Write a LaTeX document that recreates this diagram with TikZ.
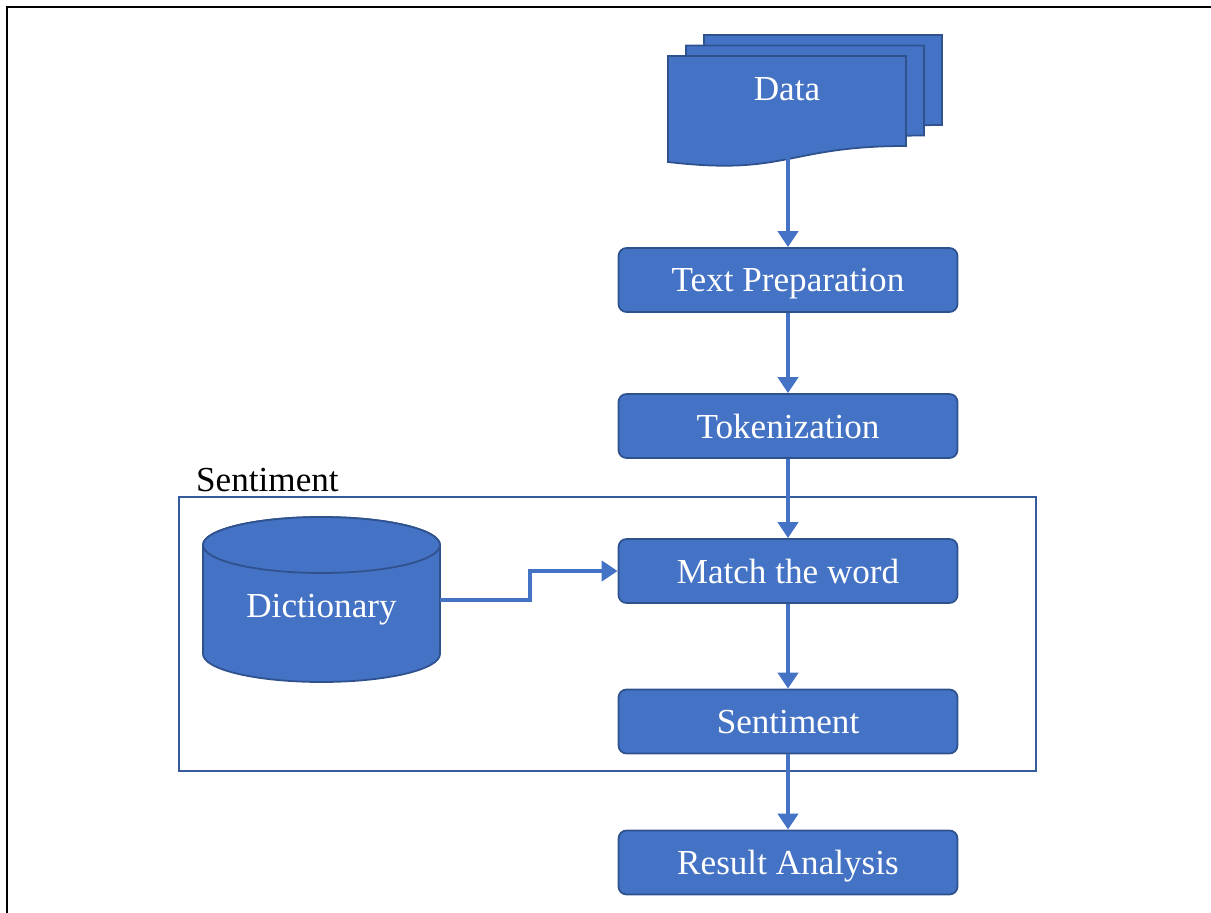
\documentclass[tikz,border=0pt]{standalone}
\usepackage{fontspec}
\setmainfont{Liberation Serif}
\usetikzlibrary{arrows.meta}
\definecolor{boxblue}{HTML}{4472C4}
\definecolor{boxedge}{HTML}{2F528F}
% one sheet of the stacked document symbol, shifted by #1,#2
\newcommand{\docsheet}[2]{%
  \draw[sheet,shift={(#1,#2)}] (668,-56) -- (906,-56) -- (906,-146)
    .. controls (787,-146) and (787,-176) .. (668,-162) -- cycle;}

\begin{document}
\begin{tikzpicture}[
        x=0.02cm, y=0.02cm,
        >={Triangle[length=0.32cm,width=0.4cm]},
        whitetext/.style={text=white,text depth=0pt,font=\fontsize{20}{24}\selectfont},
        procbox/.style={whitetext,rectangle,rounded corners=0.16cm,draw=boxedge,line width=1pt,
            fill=boxblue,minimum width=6.78cm,minimum height=1.28cm},
        sheet/.style={draw=boxedge,line width=1pt,fill=boxblue},
        every edge/.style={draw=boxblue,line width=2.4pt},
    ]
    \useasboundingbox (0,0) rectangle (1211,-913);
    \draw[line width=1.7pt] (7,-913) -- (7,-7) -- (1211,-7);

    \docsheet{36}{21}
    \docsheet{18}{10.5}
    \docsheet{0}{0}
    \node[whitetext] (data) at (787,-89) {Data};
    \coordinate (datafoot) at (788,-158);

    \node[procbox] (prep) at (788,-280) {Text Preparation};
    \node[procbox] (token) at (788,-426) {Tokenization};
    \node[procbox] (match) at (788,-571) {Match the word};
    \node[procbox] (senti) at (788,-721.5) {Sentiment};
    \node[procbox] (result) at (788,-862.5) {Result Analysis};

    \node[draw=boxblue!80!black,line width=1pt,minimum width=17.14cm,minimum height=5.48cm]
        (group) at (607.5,-634) {};
    \node[anchor=base west,font=\fontsize{20}{24}\selectfont] (grouplabel) at (190,-491) {Sentiment};

    \draw[sheet] (203,-545) -- (203,-654) arc[start angle=180,end angle=360,x radius=118.5,y radius=28]
        -- (440,-545) arc[start angle=0,end angle=180,x radius=118.5,y radius=28] -- cycle;
    \draw[sheet] (321.5,-545) ellipse[x radius=118.5,y radius=28];
    \node[whitetext] (dict) at (321.5,-606) {Dictionary};
    \coordinate (dictout) at (440,-600);

    \path (datafoot) edge[->] (prep.north)
          (prep) edge[->] (token)
          (token) edge[->] (match)
          (match) edge[->] (senti)
          (senti) edge[->] (result)
          (dictout) edge[->,to path={-- ++(90,0) |- (\tikztotarget)}] (match.west);
\end{tikzpicture}
\end{document}
